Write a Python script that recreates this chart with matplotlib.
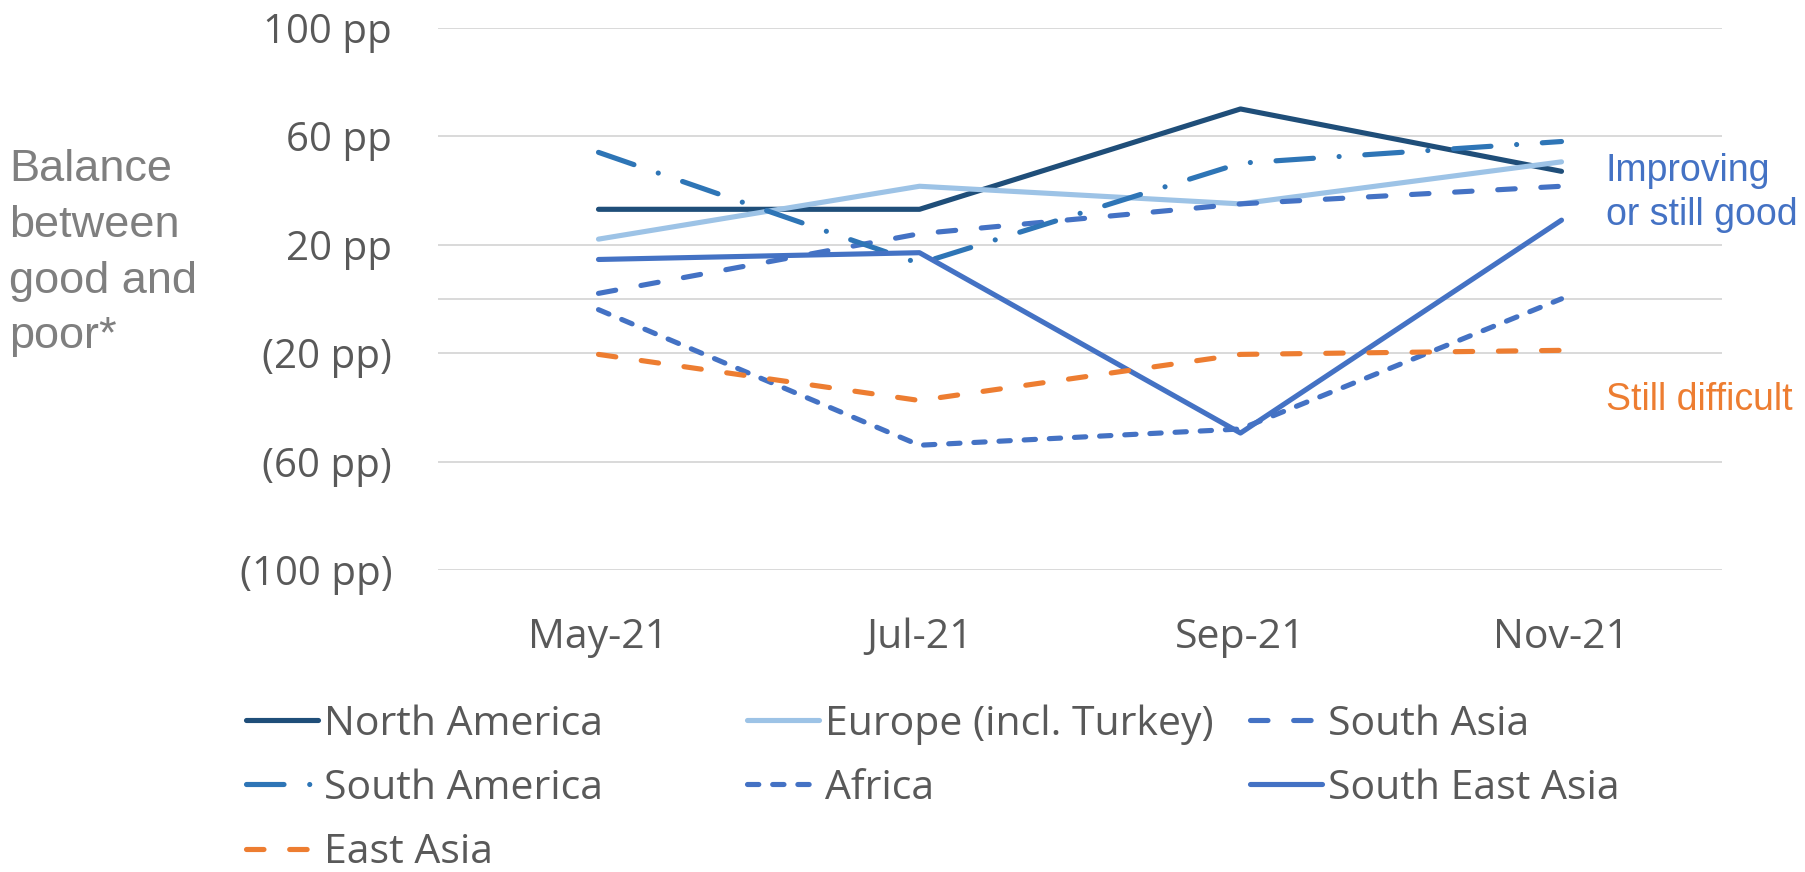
import matplotlib
matplotlib.use("Agg")
import matplotlib.pyplot as plt

# 数値はチャートから目視で読み取り（単位: pp）
months = ["May-21", "Jul-21", "Sep-21", "Nov-21"]
north_america = [33, 33, 70, 47]
europe = [22, 41.5, 35, 50.5]
south_asia = [2, 24, 35, 41.5]
south_america = [54, 13, 50, 58]
africa = [-4, -54, -48, 0]
south_east_asia = [14.5, 17, -49.5, 29]
east_asia = [-20.5, -37.5, -20.5, -19]

y_ticks = [-100, -60, -20, 20, 60, 100]
y_tick_labels = ["(100 pp)", "(60 pp)", "(20 pp)", "20 pp", "60 pp", "100 pp"]

TICK_FONT = "Open Sans"
TEXT_FONT = "Liberation Sans"
TICK_COLOR = "#595959"
GRID_COLOR = "#D9D9D9"
LW = 3.7

series = [
    ("North America", north_america, "#1F4E79", None),
    ("Europe (incl. Turkey)", europe, "#9DC3E6", None),
    ("South Asia", south_asia, "#4472C4", (3.4, 5.0)),
    ("South America", south_america, "#2E75B6", (7.3, 5, 0.01, 5)),
    ("Africa", africa, "#4472C4", (2.2, 2.7)),
    ("South East Asia", south_east_asia, "#4472C4", None),
    ("East Asia", east_asia, "#ED7D31", (3.4, 5.0)),
]

fig = plt.figure(figsize=(18.06, 8.72), dpi=100)
ax = fig.add_axes([438 / 1806, 1 - 570 / 872, (1722 - 438) / 1806, (570 - 27.6) / 872])

x = list(range(len(months)))
handles = {}
for name, vals, color, dashes in series:
    kw = dict(color=color, lw=LW, solid_capstyle="round", dash_capstyle="round",
              solid_joinstyle="round", label=name)
    if dashes is not None:
        kw["dashes"] = dashes
    (ln,) = ax.plot(x, vals, **kw)
    handles[name] = ln

ax.set_xlim(-0.5, len(months) - 0.5)
ax.set_ylim(-100, 100)
ax.set_xticks(x)
ax.set_xticklabels(months, fontfamily=TICK_FONT, fontsize=29.5, color=TICK_COLOR)
ax.set_yticks(y_ticks)
ax.set_yticklabels(y_tick_labels, fontfamily=TICK_FONT, fontsize=29, color=TICK_COLOR)
ax.tick_params(axis="both", length=0, pad=33)
ax.tick_params(axis="x", pad=34)
ax.grid(True, axis="y", color=GRID_COLOR, lw=1.4, zorder=0)
ax.axhline(0, color=GRID_COLOR, lw=1.4, zorder=0)
ax.set_axisbelow(True)
for sp in ax.spines.values():
    sp.set_visible(False)

ax.set_ylabel("Balance\nbetween\ngood and\npoor*", rotation=0, ha="left", va="center",
              fontfamily=TEXT_FONT, fontsize=32.5, color="#7F7F7F", linespacing=1.46)
ax.yaxis.set_label_coords(-0.334, 0.584)

fig.text(1606 / 1806, 1 - 193 / 872, "Improving\nor still good", ha="left", va="center",
         fontfamily=TEXT_FONT, fontsize=27, color="#4472C4", linespacing=1.28)
fig.text(1606 / 1806, 1 - 400 / 872, "Still difficult", ha="left", va="center",
         fontfamily=TEXT_FONT, fontsize=27, color="#ED7D31")

# 凡例はExcel風の等幅列にするため列ごとに分けて配置
columns = [
    (246, ["North America", "South America", "East Asia"]),
    (747, ["Europe (incl. Turkey)", "Africa"]),
    (1250, ["South Asia", "South East Asia"]),
]
for x0, names in columns:
    leg = fig.legend([handles[n] for n in names], names, loc="upper left",
                     bbox_to_anchor=(x0 / 1806, 1 - 704 / 872), frameon=False,
                     borderpad=0, borderaxespad=0, handlelength=1.75, handletextpad=0.15,
                     labelspacing=0.58, prop={"family": TICK_FONT, "size": 29.5})
    for t in leg.get_texts():
        t.set_color(TICK_COLOR)

fig.savefig("out.png", dpi=100)
